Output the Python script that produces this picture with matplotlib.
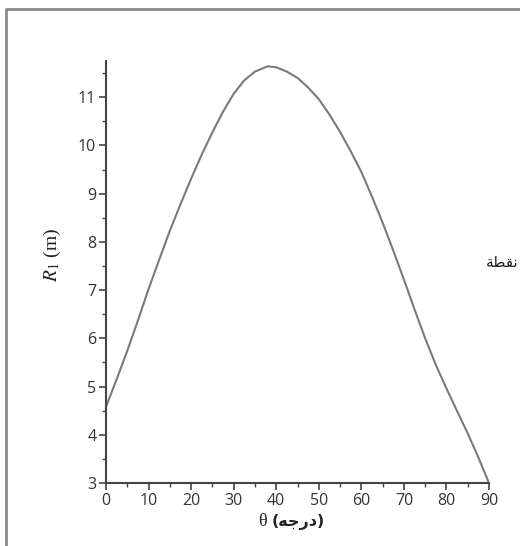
import matplotlib
matplotlib.use("Agg")
import matplotlib.pyplot as plt
from matplotlib.lines import Line2D
from matplotlib.ticker import MultipleLocator

plt.rcParams['mathtext.fontset'] = 'stix'

# Data
theta = [0, 2.5, 5, 7.5, 10, 12.5, 15, 17.5, 20, 22.5, 25, 27.5, 30, 32.5, 35, 38, 40,
         42.5, 45, 47.5, 50, 52.5, 55, 57.5, 60, 62.5, 65, 67.5, 70, 72.5, 75, 77.5,
         80, 82.5, 85, 87.5, 90]
R1 = [4.58, 5.15, 5.74, 6.37, 7.02, 7.63, 8.23, 8.78, 9.31, 9.81, 10.27, 10.7, 11.07,
      11.35, 11.53, 11.64, 11.62, 11.53, 11.4, 11.2, 10.96, 10.64, 10.28, 9.88, 9.45,
      8.94, 8.4, 7.82, 7.22, 6.6, 6.0, 5.45, 4.96, 4.49, 4.03, 3.53, 3.0]
x_ticks = [0, 10, 20, 30, 40, 50, 60, 70, 80, 90]
y_ticks = [3, 4, 5, 6, 7, 8, 9, 10, 11]

# Arabic strings in visual (shaped) order
xlabel_sym = "\u03b8"
xlabel_unit = "(\uFEEA\uFE9F\uFEAD\uFEA9)"
side_text = "\uFE94\uFEC4\uFED8\uFEE7"

W, H = 520, 546
fig = plt.figure(figsize=(W / 100, H / 100), dpi=100)
ax = fig.add_axes([106 / W, 1 - 483 / H, (489 - 106) / W, (483 - 61) / H])

ax.plot(theta, R1, color='#7a7a7a', lw=1.5, solid_capstyle='round', solid_joinstyle='round')

ax.set_xlim(0, 90)
ax.set_ylim(3, 11.75)
ax.set_xticks(x_ticks)
ax.set_yticks(y_ticks)
ax.xaxis.set_minor_locator(MultipleLocator(5))
ax.yaxis.set_minor_locator(MultipleLocator(0.5))

for s in ['top', 'right']:
    ax.spines[s].set_visible(False)
for s in ['left', 'bottom']:
    ax.spines[s].set_color('#444444')
    ax.spines[s].set_linewidth(1.5)

ax.tick_params(which='major', direction='out', length=5, width=1.2, color='#444444',
               labelsize=11.5, labelcolor='#333333', pad=2)
ax.tick_params(which='minor', direction='out', length=3, width=1.0, color='#444444')
for lab in ax.get_xticklabels() + ax.get_yticklabels():
    lab.set_fontfamily('Open Sans')

ax.set_ylabel(r"$R_1$ (m)", fontsize=14, family='Liberation Serif', color='#222222')
ax.yaxis.set_label_coords(-0.112, 0.54)

# x label: serif theta + Arabic unit
fig.text(267 / W, 1 - 522 / H, xlabel_sym, ha='right', va='center', fontsize=13,
         family=['Liberation Serif'], color='#222222')
fig.text(272 / W, 1 - 522 / H, xlabel_unit, ha='left', va='center', fontsize=11.5,
         family=['DejaVu Sans'], fontweight='bold', color='#222222')

fig.text(519 / W, 1 - 262 / H, side_text, ha='right', va='center', fontsize=11,
         family=['DejaVu Sans'], color='#222222')

# Frame lines (left and top)
fig.add_artist(Line2D([6 / W, 6 / W, 1.0], [0, 1 - 8.5 / H, 1 - 8.5 / H],
                      transform=fig.transFigure, color='#8a8a8a', lw=2))

fig.savefig('out.png', dpi=100)
